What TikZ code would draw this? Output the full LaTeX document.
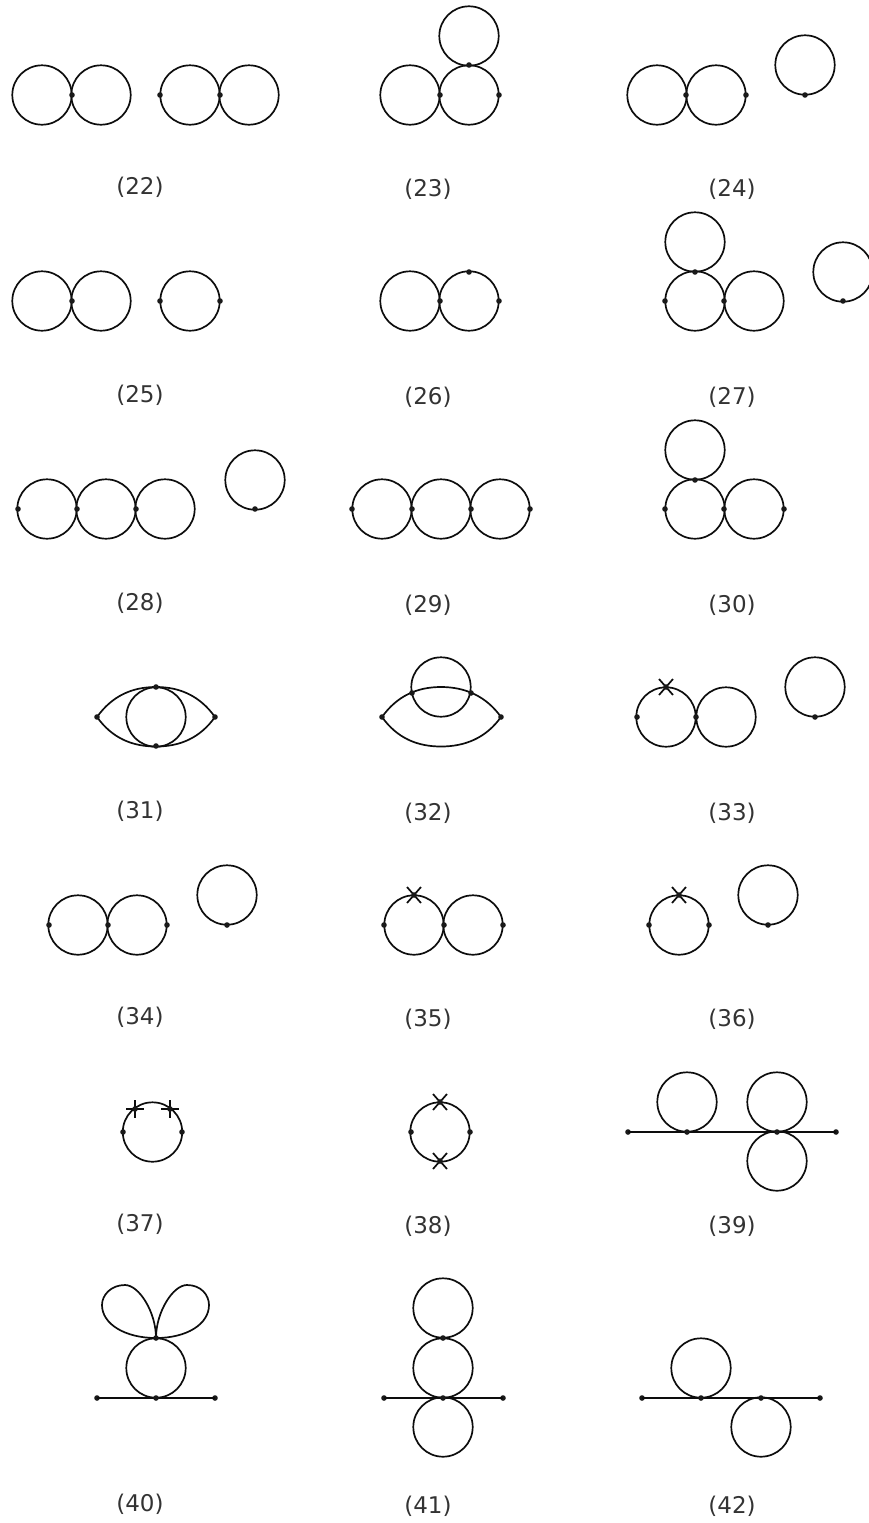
\documentclass[tikz,border=0pt]{standalone}
\usepackage{fontspec}
\setmainfont{DejaVu Sans}
\tikzset{
  loopline/.style={line width=1.7pt,black!95},
  vtx/.style={circle,fill=black!90,inner sep=0pt,minimum size=5.6pt},
  lab/.style={inner sep=0pt,font=\fontsize{23}{26}\selectfont,text=black!80},
}
\newcommand{\Lp}[2]{\draw[loopline] (#1,#2) circle (29.7);}
\newcommand{\Dt}[2]{\node[vtx] at (#1,#2) {};}
\newcommand{\Xm}[2]{\draw[loopline] (#1-7,#2-8) -- (#1+7,#2+8) (#1-7,#2+8) -- (#1+7,#2-8); \Dt{#1}{#2}}
\newcommand{\Pm}[2]{\draw[loopline] (#1-9,#2) -- (#1+9,#2) (#1,#2-9) -- (#1,#2+9); \Dt{#1}{#2}}
\newcommand{\Lb}[3]{\node[lab] (L#3) at (#1,#2) {(#3)};}
\begin{document}
\begin{tikzpicture}[x=1pt,y=-1pt]
\useasboundingbox (0,0) rectangle (869,1523);
% 22
\Lp{42}{95}\Lp{101}{95}\Lp{190}{95}\Lp{249}{95}
\Dt{72}{95}\Dt{160}{95}\Dt{220}{95}
\Lb{140}{187}{22}
% 23
\Lp{410}{95}\Lp{469}{95}\Lp{469}{36}
\Dt{440}{95}\Dt{499}{95}\Dt{469}{65}
\Lb{428}{189}{23}
% 24
\Lp{657}{95}\Lp{716}{95}\Lp{805}{65}
\Dt{686}{95}\Dt{746}{95}\Dt{805}{95}
\Lb{732}{189}{24}
% 25
\Lp{42}{301}\Lp{101}{301}\Lp{190}{301}
\Dt{72}{301}\Dt{160}{301}\Dt{220}{301}
\Lb{140}{395}{25}
% 26
\Lp{410}{301}\Lp{469}{301}
\Dt{440}{301}\Dt{499}{301}\Dt{469}{272}
\Lb{428}{397}{26}
% 27
\Lp{695}{301}\Lp{754}{301}\Lp{695}{242}\Lp{843}{272}
\Dt{665}{301}\Dt{724}{301}\Dt{695}{272}\Dt{843}{301}
\Lb{732}{397}{27}
% 28
\Lp{47}{509}\Lp{106}{509}\Lp{165}{509}\Lp{255}{480}
\Dt{18}{509}\Dt{77}{509}\Dt{136}{509}\Dt{255}{509}
\Lb{140}{603}{28}
% 29
\Lp{382}{509}\Lp{441}{509}\Lp{500}{509}
\Dt{352}{509}\Dt{412}{509}\Dt{471}{509}\Dt{530}{509}
\Lb{428}{605}{29}
% 30
\Lp{695}{509}\Lp{754}{509}\Lp{695}{450}
\Dt{665}{509}\Dt{724}{509}\Dt{784}{509}\Dt{695}{480}
\Lb{732}{605}{30}
% 31
\Lp{156}{717}
\draw[loopline] (97,717) .. controls (112,696) and (132,687) .. (156,687) .. controls (180,687) and (200,696) .. (215,717)
  .. controls (200,738) and (180,746.5) .. (156,746.5) .. controls (132,746.5) and (112,738) .. (97,717) -- cycle;
\Dt{97}{717}\Dt{215}{717}\Dt{156}{687}\Dt{156}{746}
\Lb{140}{811}{31}
% 32
\Lp{441}{687}
\draw[loopline] (382,717) .. controls (397,696) and (417,687) .. (441,687) .. controls (465,687) and (486,696) .. (501,717)
  .. controls (486,738) and (465,746.5) .. (441,746.5) .. controls (417,746.5) and (397,738) .. (382,717) -- cycle;
\Dt{382}{717}\Dt{501}{717}\Dt{412}{693}\Dt{471}{693}
\Lb{428}{813}{32}
% 33
\Lp{666}{717}\Lp{726}{717}\Lp{815}{687}
\Dt{637}{717}\Dt{696}{717}\Dt{815}{717}\Xm{666}{687}
\Lb{732}{813}{33}
% 34
\Lp{78}{925}\Lp{137}{925}\Lp{227}{895}
\Dt{49}{925}\Dt{108}{925}\Dt{167}{925}\Dt{227}{925}
\Lb{140}{1017}{34}
% 35
\Lp{414}{925}\Lp{473}{925}
\Dt{384}{925}\Dt{444}{925}\Dt{503}{925}\Xm{414}{895}
\Lb{428}{1019}{35}
% 36
\Lp{679}{925}\Lp{768}{895}
\Dt{649}{925}\Dt{709}{925}\Dt{768}{925}\Xm{679}{895}
\Lb{732}{1019}{36}
% 37
\Lp{152.5}{1132}
\Dt{123}{1132}\Dt{182}{1132}\Pm{135}{1109}\Pm{170}{1109}
\Lb{140}{1224}{37}
% 38
\Lp{440}{1132}
\Dt{411}{1132}\Dt{470}{1132}\Xm{440}{1102}\Xm{440}{1161}
\Lb{428}{1226}{38}
% 39
\Lp{687}{1102}\Lp{777}{1102}\Lp{777}{1161}
\node[vtx] (a39) at (628,1132) {};
\node[vtx] (b39) at (836,1132) {};
\draw[loopline] (a39.center) -- (b39.center);
\Dt{687}{1132}\Dt{777}{1132}
\Lb{732}{1226}{39}
% 40
\Lp{156}{1368}
\draw[loopline] (156,1338) .. controls (156,1312) and (139,1285) .. (125,1285)
  .. controls (111,1285) and (102,1295) .. (102,1305)
  .. controls (102,1324) and (125,1338) .. (156,1338);
\draw[loopline] (156,1338) .. controls (156,1312) and (173,1285) .. (187,1285)
  .. controls (201,1285) and (209,1295) .. (209,1305)
  .. controls (209,1324) and (187,1338) .. (156,1338);
\node[vtx] (a40) at (97,1398) {};
\node[vtx] (b40) at (215,1398) {};
\draw[loopline] (a40.center) -- (b40.center);
\Dt{156}{1398}\Dt{156}{1338}
\Lb{140}{1504}{40}
% 41
\Lp{443}{1308}\Lp{443}{1368}\Lp{443}{1427}
\node[vtx] (a41) at (384,1398) {};
\node[vtx] (b41) at (503,1398) {};
\draw[loopline] (a41.center) -- (b41.center);
\Dt{443}{1398}\Dt{443}{1338}
\Lb{428}{1506}{41}
% 42
\Lp{701}{1368}\Lp{761}{1427}
\node[vtx] (a42) at (642,1398) {};
\node[vtx] (b42) at (820,1398) {};
\draw[loopline] (a42.center) -- (b42.center);
\Dt{701}{1398}\Dt{761}{1398}
\Lb{732}{1506}{42}
\end{tikzpicture}
\end{document}
